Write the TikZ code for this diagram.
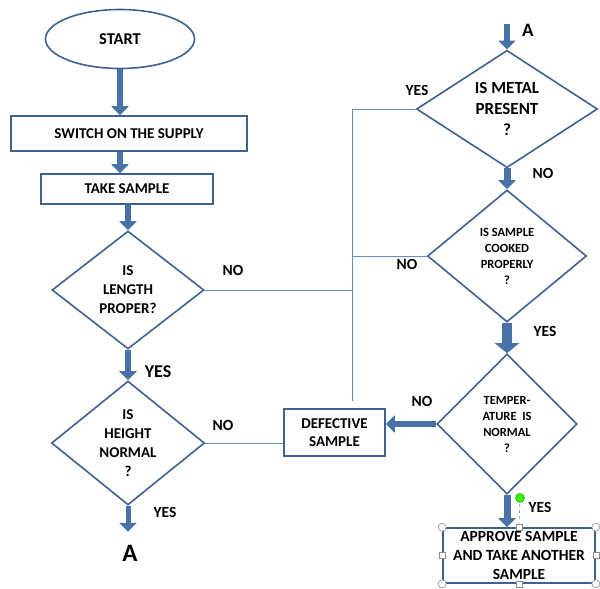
\documentclass[tikz,border=0pt]{standalone}
\usepackage{fontspec}
\setmainfont{Carlito}
\usetikzlibrary{shapes.geometric,arrows.meta}
\definecolor{boxline}{RGB}{62,98,143}
\definecolor{arrowblue}{RGB}{72,114,168}
\definecolor{wireblue}{RGB}{100,140,192}
\tikzset{
    stepbox/.style={draw=boxline, line width=1.6pt, fill=white, inner sep=0pt, align=center},
    decision/.style={diamond, draw=boxline, line width=1.6pt, inner sep=0pt, align=center},
    blockarr/.style={draw=arrowblue, line width=6pt, -{Triangle[width=17pt,length=9pt]}},
    widearr/.style={draw=arrowblue, line width=10pt, -{Triangle[width=24pt,length=10pt]}},
    wire/.style={draw=wireblue, line width=1pt},
    lbl/.style={font=\fontsize{15.5}{19}\selectfont\bfseries},
    handle/.style={draw=black!45, fill=white, line width=0.6pt}
}
\begin{document}
\begin{tikzpicture}[x=1pt, y=-1pt]
    \useasboundingbox (0,0) rectangle (600,589);
    \node [ellipse, draw=boxline, line width=1.6pt, minimum width=149pt, minimum height=59pt, font=\fontsize{16.5}{20}\selectfont\bfseries] (start) at (120,39) {START};
    \node [stepbox, minimum width=236pt, minimum height=35pt, font=\fontsize{15}{18}\selectfont\bfseries] (switch) at (129,133.5) {SWITCH ON THE SUPPLY};
    \node [stepbox, minimum width=172pt, minimum height=30pt, font=\fontsize{15}{18}\selectfont\bfseries] (take) at (127,189) {TAKE SAMPLE};
    \node [decision, minimum width=152pt, minimum height=118pt, font=\fontsize{15}{19}\selectfont\bfseries] (length) at (128,290) {IS\\LENGTH\\PROPER?};
    \node [decision, minimum width=153pt, minimum height=121pt, font=\fontsize{15}{19}\selectfont\bfseries] (height) at (128,443) {IS\\HEIGHT\\NORMAL\\?};
    \node [font=\fontsize{25}{25}\selectfont\bfseries, inner sep=1pt] (abot) at (130,553) {A};
    \coordinate (atop) at (507,24);
    \node [font=\fontsize{19}{19}\selectfont\bfseries] (alabel) at (528,30) {A};
    \node [decision, minimum width=181pt, minimum height=98pt, font=\fontsize{17}{21}\selectfont\bfseries] (metal) at (507,109) {IS METAL\\PRESENT\\?};
    \node [decision, minimum width=159pt, minimum height=132pt, font=\fontsize{12.5}{16}\selectfont\bfseries] (cooked) at (507,256) {IS SAMPLE\\COOKED\\PROPERLY\\?};
    \node [decision, minimum width=140pt, minimum height=140pt, font=\fontsize{12.5}{16}\selectfont\bfseries] (temp) at (507,424) {TEMPER-\\ATURE\ \ IS\\NORMAL\\?};
    \node [stepbox, minimum width=101pt, minimum height=47pt, font=\fontsize{15}{18}\selectfont\bfseries] (defective) at (334.5,432.5) {DEFECTIVE\\SAMPLE};
    \node [stepbox, minimum width=152pt, minimum height=55pt, font=\fontsize{15.5}{19}\selectfont\bfseries] (approve) at (519,555.5) {APPROVE SAMPLE\\AND TAKE ANOTHER\\SAMPLE};
    \coordinate (busend) at (352,401);
    \draw [blockarr] (start.south) -- (start.south |- switch.north);
    \draw [blockarr] (start.south |- switch.south) -- (start.south |- take.north);
    \draw [blockarr] (length.north |- take.south) -- (length.north);
    \draw [blockarr] (length.south) -- (height.north);
    \draw [blockarr, line width=5pt] (height.south) -- ([yshift=-26pt]height.south);
    \draw [blockarr] (atop) -- (metal.north);
    \draw [blockarr, line width=7pt] (metal.south) -- (cooked.north);
    \draw [widearr] (cooked.south) -- (temp.north);
    \draw [blockarr] (temp.west) -- (temp.west -| defective.east);
    \draw [blockarr, line width=7pt] (temp.south) -- (temp.south |- approve.north);
    \draw [wire] (metal.west) -- (metal.west -| busend) -- (busend);
    \draw [wire] (cooked.west) -- (cooked.west -| busend);
    \draw [wire] (length.east) -- (length.east -| busend);
    \draw [wire] (height.east) -- (height.east -| defective.west);
    \node [lbl] (nolength) at (233,270) {NO};
    \node [lbl, font=\fontsize{18}{19}\selectfont\bfseries] (yeslength) at (158,372) {YES};
    \node [lbl] (noheight) at (223,425) {NO};
    \node [lbl] (yesheight) at (165,512) {YES};
    \node [lbl] (yesmetal) at (417,90) {YES};
    \node [lbl] (nometal) at (543,173) {NO};
    \node [lbl] (nocooked) at (407,264) {NO};
    \node [lbl] (yescooked) at (545,331) {YES};
    \node [lbl] (notemp) at (422,401) {NO};
    \node [lbl] (yestemp) at (540,507) {YES};
    \draw [black!45, dashed, line width=0.6pt] (520,498) -- (approve.north);
    \fill [green!70!lime, draw=green!50!black, line width=0.4pt] (520,498) circle (4.5pt);
    \foreach \c in {north west, north east, south west, south east}
        \draw [handle] (approve.\c) circle (4pt);
    \foreach \c in {north, south, west, east}
        \draw [handle] ([xshift=-3pt, yshift=-3pt]approve.\c) rectangle ([xshift=3pt, yshift=3pt]approve.\c);
\end{tikzpicture}
\end{document}
